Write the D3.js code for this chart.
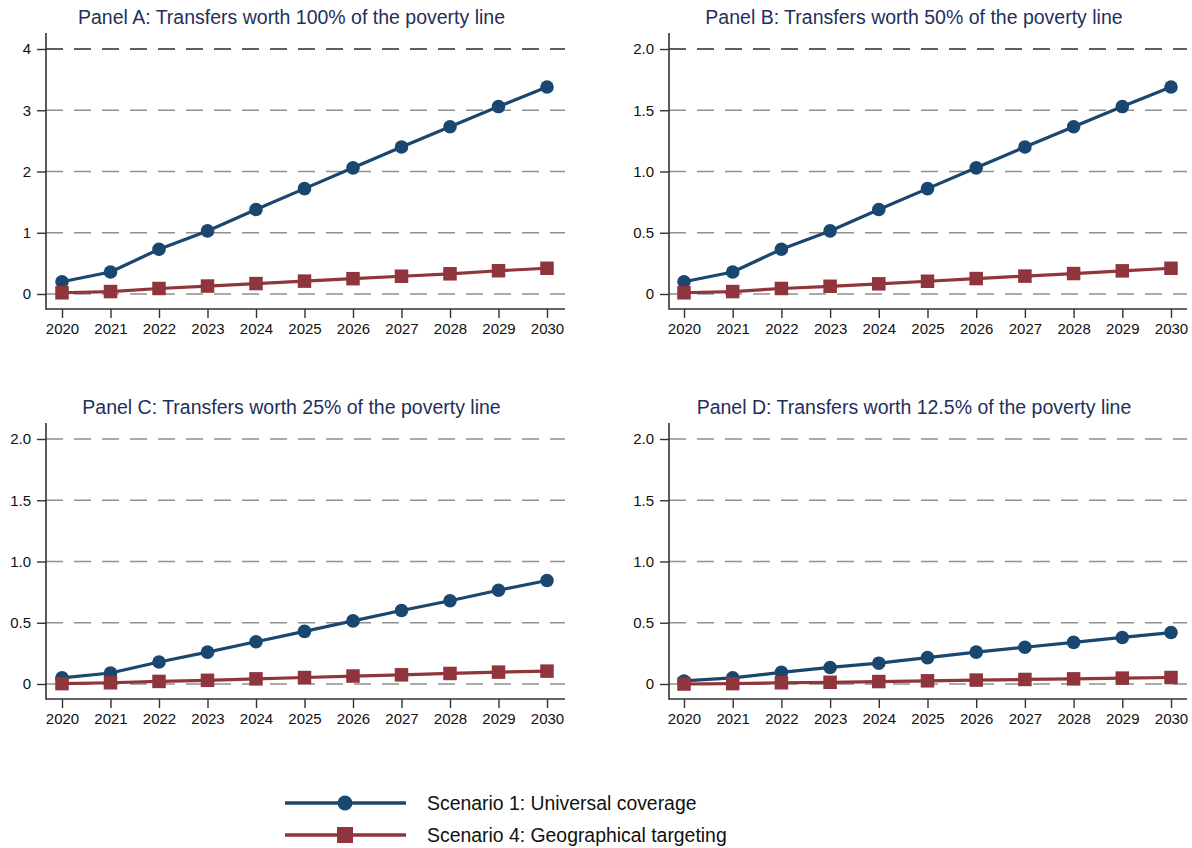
<!DOCTYPE html>
<html>
<head>
<meta charset="utf-8">
<script src="https://cdn.jsdelivr.net/npm/d3@7"></script>
<style>
  html, body { margin: 0; padding: 0; background: #fff; }
  svg { display: block; font-family: "Liberation Sans", Arial, sans-serif; }
</style>
</head>
<body>
<svg id="chart" width="1192" height="848"></svg>
<script>
// Years on the horizontal axis
const years = [2020, 2021, 2022, 2023, 2024, 2025, 2026, 2027, 2028, 2029, 2030];

// Panel titles
const panelTitles = [
  "Panel A: Transfers worth 100% of the poverty line",
  "Panel B: Transfers worth 50% of the poverty line",
  "Panel C: Transfers worth 25% of the poverty line",
  "Panel D: Transfers worth 12.5% of the poverty line"
];

// Scenario 1: Universal coverage
const universalA = [0.20, 0.36, 0.73, 1.03, 1.38, 1.72, 2.06, 2.40, 2.73, 3.06, 3.38];
const universalB = [0.10, 0.18, 0.365, 0.515, 0.69, 0.86, 1.03, 1.20, 1.365, 1.53, 1.69];
const universalC = [0.05, 0.09, 0.18, 0.26, 0.345, 0.43, 0.515, 0.60, 0.68, 0.765, 0.845];
const universalD = [0.025, 0.05, 0.095, 0.135, 0.17, 0.215, 0.26, 0.30, 0.34, 0.38, 0.42];

// Scenario 4: Geographical targeting
const geoA = [0.02, 0.04, 0.09, 0.13, 0.17, 0.21, 0.25, 0.29, 0.33, 0.38, 0.42];
const geoB = [0.01, 0.02, 0.045, 0.063, 0.083, 0.104, 0.126, 0.146, 0.167, 0.189, 0.21];
const geoC = [0.003, 0.01, 0.021, 0.03, 0.042, 0.053, 0.065, 0.075, 0.086, 0.097, 0.105];
const geoD = [0.0, 0.003, 0.01, 0.014, 0.02, 0.026, 0.032, 0.037, 0.042, 0.048, 0.053];

// Y-axis ticks and their labels
const yTicksA = [0, 1, 2, 3, 4];
const yTickLabelsA = ["0", "1", "2", "3", "4"];
const yTicksBCD = [0, 0.5, 1, 1.5, 2];
const yTickLabelsBCD = ["0", "0.5", "1.0", "1.5", "2.0"];

// Legend entries
const seriesNames = ["Scenario 1: Universal coverage", "Scenario 4: Geographical targeting"];

const NAVY = "#1a476f";
const MAROON = "#90353b";
const TITLE_COLOR = "#1f2f5c";

const panels = [
  { title: panelTitles[0], uni: universalA, geo: geoA, yMax: 4, ticks: yTicksA, labels: yTickLabelsA,
    ox: 46, x0: 62, x1: 547, right: 565, yBase: 294, yTop: 49, darkTop: true },
  { title: panelTitles[1], uni: universalB, geo: geoB, yMax: 2, ticks: yTicksBCD, labels: yTickLabelsBCD,
    ox: 669, x0: 684, x1: 1171, right: 1187, yBase: 294, yTop: 49, darkTop: true },
  { title: panelTitles[2], uni: universalC, geo: geoC, yMax: 2, ticks: yTicksBCD, labels: yTickLabelsBCD,
    ox: 46, x0: 62, x1: 547, right: 565, yBase: 684, yTop: 439, darkTop: false },
  { title: panelTitles[3], uni: universalD, geo: geoD, yMax: 2, ticks: yTicksBCD, labels: yTickLabelsBCD,
    ox: 669, x0: 684, x1: 1171, right: 1187, yBase: 684, yTop: 439, darkTop: false }
];

const svg = d3.select("#chart");

panels.forEach(p => {
  const g = svg.append("g");
  const x = d3.scaleLinear().domain([years[0], years[years.length - 1]]).range([p.x0, p.x1]);
  const y = d3.scaleLinear().domain([0, p.yMax]).range([p.yBase, p.yTop]);
  const axisBottom = p.yBase + 15;
  const axisTop = p.yTop - 16;

  // Title
  g.append("text")
    .attr("x", (p.ox + p.right) / 2 - 14)
    .attr("y", p.yTop - 25)
    .attr("text-anchor", "middle")
    .attr("font-size", 19.5)
    .attr("fill", TITLE_COLOR)
    .text(p.title);

  // Dashed horizontal gridlines
  g.selectAll("line.grid")
    .data(p.ticks)
    .enter().append("line")
    .attr("class", "grid")
    .attr("x1", p.ox).attr("x2", p.right)
    .attr("y1", d => y(d)).attr("y2", d => y(d))
    .attr("stroke", (d, i) => (p.darkTop && i === p.ticks.length - 1) ? "#2a2a2a" : "#8f8f8f")
    .attr("stroke-width", 1.4)
    .attr("stroke-dasharray", "17,11");

  // Y axis
  const yAxis = d3.axisLeft(y)
    .tickValues(p.ticks)
    .tickFormat((d, i) => p.labels[i])
    .tickSize(9)
    .tickPadding(6);
  const ya = g.append("g").attr("transform", `translate(${p.ox},0)`).call(yAxis);
  ya.select(".domain").remove();
  ya.selectAll(".tick line").attr("stroke", "#333").attr("stroke-width", 1.4);
  ya.selectAll(".tick text").attr("font-size", 15).attr("fill", "#111")
    .attr("font-family", "'Liberation Sans', Arial, sans-serif");
  g.append("line")
    .attr("x1", p.ox).attr("x2", p.ox)
    .attr("y1", axisTop).attr("y2", axisBottom + 0.7)
    .attr("stroke", "#333").attr("stroke-width", 1.6);

  // X axis
  const xAxis = d3.axisBottom(x)
    .tickValues(years)
    .tickFormat(d3.format("d"))
    .tickSize(9)
    .tickPadding(5);
  const xa = g.append("g").attr("transform", `translate(0,${axisBottom})`).call(xAxis);
  xa.select(".domain").remove();
  xa.selectAll(".tick line").attr("stroke", "#333").attr("stroke-width", 1.4);
  xa.selectAll(".tick text").attr("font-size", 15).attr("fill", "#111")
    .attr("font-family", "'Liberation Sans', Arial, sans-serif");
  g.append("line")
    .attr("x1", p.ox).attr("x2", p.right)
    .attr("y1", axisBottom).attr("y2", axisBottom)
    .attr("stroke", "#333").attr("stroke-width", 1.6);

  const line = d3.line().x((d, i) => x(years[i])).y(d => y(d));

  // Scenario 1 line and circles
  g.append("path").datum(p.uni)
    .attr("d", line).attr("fill", "none")
    .attr("stroke", NAVY).attr("stroke-width", 3.2).attr("stroke-linejoin", "round");
  g.selectAll("circle.uni").data(p.uni).enter().append("circle")
    .attr("class", "uni")
    .attr("cx", (d, i) => x(years[i])).attr("cy", d => y(d))
    .attr("r", 6.8).attr("fill", NAVY);

  // Scenario 4 line and squares
  g.append("path").datum(p.geo)
    .attr("d", line).attr("fill", "none")
    .attr("stroke", MAROON).attr("stroke-width", 3.2).attr("stroke-linejoin", "round");
  const s = 13.5;
  g.selectAll("rect.geo").data(p.geo).enter().append("rect")
    .attr("class", "geo")
    .attr("x", (d, i) => x(years[i]) - s / 2).attr("y", d => y(d) - s / 2)
    .attr("width", s).attr("height", s).attr("fill", MAROON);
});

// Legend
const legend = svg.append("g");
const legendRows = [
  { name: seriesNames[0], color: NAVY, shape: "circle", y: 803 },
  { name: seriesNames[1], color: MAROON, shape: "square", y: 835 }
];
legendRows.forEach(r => {
  legend.append("line")
    .attr("x1", 285).attr("x2", 406).attr("y1", r.y).attr("y2", r.y)
    .attr("stroke", r.color).attr("stroke-width", 3.4);
  if (r.shape === "circle") {
    legend.append("circle").attr("cx", 345).attr("cy", r.y).attr("r", 7.5).attr("fill", r.color);
  } else {
    legend.append("rect").attr("x", 345 - 8).attr("y", r.y - 8)
      .attr("width", 16).attr("height", 16).attr("fill", r.color);
  }
  legend.append("text")
    .attr("x", 427).attr("y", r.y)
    .attr("dy", "0.36em")
    .attr("font-size", 19.4)
    .attr("fill", "#111")
    .text(r.name);
});
</script>
</body>
</html>
